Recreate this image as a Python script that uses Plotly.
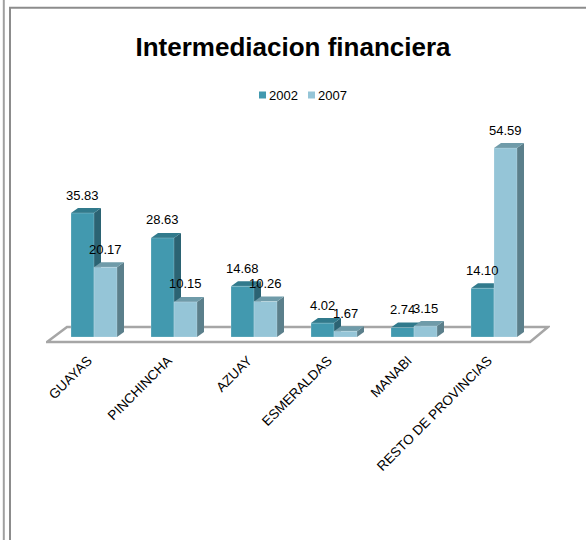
import plotly.graph_objects as go

# ---- data ----
categories = ["GUAYAS", "PINCHINCHA", "AZUAY", "ESMERALDAS", "MANABI", "RESTO DE PROVINCIAS"]
series_names = ["2002", "2007"]
values_2002 = [35.83, 28.63, 14.68, 4.02, 2.74, 14.10]
values_2007 = [20.17, 10.15, 10.26, 1.67, 3.15, 54.59]
title_text = "Intermediacion financiera"

# ---- layout constants ----
W, H = 586, 540
PX_X = 80.0      # pixels per category
PX_Y = 3.46      # pixels per value unit
X0_PX = 94.0     # pixel of category 0
Y0_PX = 337.0    # pixel of value 0
L, R, T, B = 46, 36, 129, 191
PW, PH = W - L - R, H - T - B

x_range = [(L - X0_PX) / PX_X, (W - R - X0_PX) / PX_X]
y_range = [-(H - B - Y0_PX) / PX_Y, (Y0_PX - T) / PX_Y]

BW = 23 / PX_X          # bar width in axis units
DX = 7 / PX_X           # depth offset x
DY = 5 / PX_Y           # depth offset y

FONT = "Liberation Sans, Arial, sans-serif"

front = {"2002": "#4299AF", "2007": "#95C5D7"}
side = {"2002": "#2B6373", "2007": "#5B7F8B"}
top = {"2002": "#317A8C", "2007": "#6F9BA9"}
offsets = {"2002": -BW, "2007": 0.0}
series_vals = {"2002": values_2002, "2007": values_2007}

def xp(px):
    return (px - L) / PW

def yp(py):
    return (H - B - py) / PH

xs = list(range(len(categories)))

fig = go.Figure()
for name in series_names:
    fig.add_trace(go.Bar(
        x=xs, y=series_vals[name], name=name,
        width=BW, offset=offsets[name],
        marker=dict(color=front[name], line=dict(color="rgba(255,255,255,0.35)", width=0.6)),
        showlegend=False, hoverinfo="x+y",
    ))

shapes = []
# floor slab
fl = [(-0.5875, -1.45), (-0.3375, 2.9), (5.675, 2.9), (5.45, -1.45)]
path = "M " + " L ".join(f"{a},{b}" for a, b in fl) + " Z"
shapes.append(dict(type="path", path=path, xref="x", yref="y", layer="below",
                   fillcolor="white", line=dict(color="#A6A6A6", width=2.5)))

# 3D faces
for name in series_names:
    for i, v in enumerate(series_vals[name]):
        xl = i + offsets[name]
        xr = xl + BW
        side_path = f"M {xr},0 L {xr+DX},{DY} L {xr+DX},{v+DY} L {xr},{v} Z"
        top_path = f"M {xl},{v} L {xr},{v} L {xr+DX},{v+DY} L {xl+DX},{v+DY} Z"
        shapes.append(dict(type="path", path=side_path, xref="x", yref="y", layer="below",
                           fillcolor=side[name], line=dict(width=0)))
        shapes.append(dict(type="path", path=top_path, xref="x", yref="y", layer="below",
                           fillcolor=top[name], line=dict(width=0)))

# frame lines
shapes.append(dict(type="line", xref="paper", yref="paper", x0=xp(3.8), x1=xp(3.8),
                   y0=yp(-5), y1=yp(545), line=dict(color="#A0A0A0", width=2)))
shapes.append(dict(type="line", xref="paper", yref="paper", x0=xp(10), x1=xp(10),
                   y0=yp(7), y1=yp(545), line=dict(color="#8C8C8C", width=2)))
shapes.append(dict(type="line", xref="paper", yref="paper", x0=xp(9), x1=xp(600),
                   y0=yp(7.8), y1=yp(7.8), line=dict(color="#8C8C8C", width=2)))

# legend squares
leg = [("2002", 259, 267), ("2007", 308, 316)]
annotations = []
for name, sq_x, tx in leg:
    shapes.append(dict(type="rect", xref="paper", yref="paper",
                       x0=xp(sq_x), x1=xp(sq_x + 7), y0=yp(98.5), y1=yp(91.5),
                       fillcolor=front[name], line=dict(width=0)))
    annotations.append(dict(text=name, xref="paper", yref="paper", x=xp(tx), y=yp(95.5),
                            xanchor="left", yanchor="middle", showarrow=False,
                            font=dict(family=FONT, size=13, color="#000")))

# data labels
for name in series_names:
    for i, v in enumerate(series_vals[name]):
        annotations.append(dict(text=f"{v:.2f}", x=i + offsets[name] + BW / 2, y=v,
                                xref="x", yref="y", yshift=18, showarrow=False,
                                xanchor="center", yanchor="middle",
                                font=dict(family=FONT, size=13, color="#000")))

fig.update_layout(
    width=W, height=H,
    margin=dict(l=L, r=R, t=T, b=B, pad=0),
    paper_bgcolor="white", plot_bgcolor="white",
    barmode="overlay",
    title=dict(text=f"<b>{title_text}</b>", x=0.5, xref="container", xanchor="center",
               y=1 - 47 / H, yref="container", yanchor="middle",
               font=dict(family=FONT, size=26, color="#000")),
    xaxis=dict(range=x_range, tickmode="array", tickvals=xs, ticktext=categories,
               tickangle=-45, showgrid=False, zeroline=False, showline=False,
               ticks="", ticklabelshift=-6,
               tickfont=dict(family=FONT, size=13.5, color="#000")),
    yaxis=dict(range=y_range, visible=False, showgrid=False, zeroline=False),
    shapes=shapes, annotations=annotations,
    showlegend=False,
)

fig.write_html("out.html", config={"displayModeBar": False},
               post_script="document.body.style.margin='0px';")
